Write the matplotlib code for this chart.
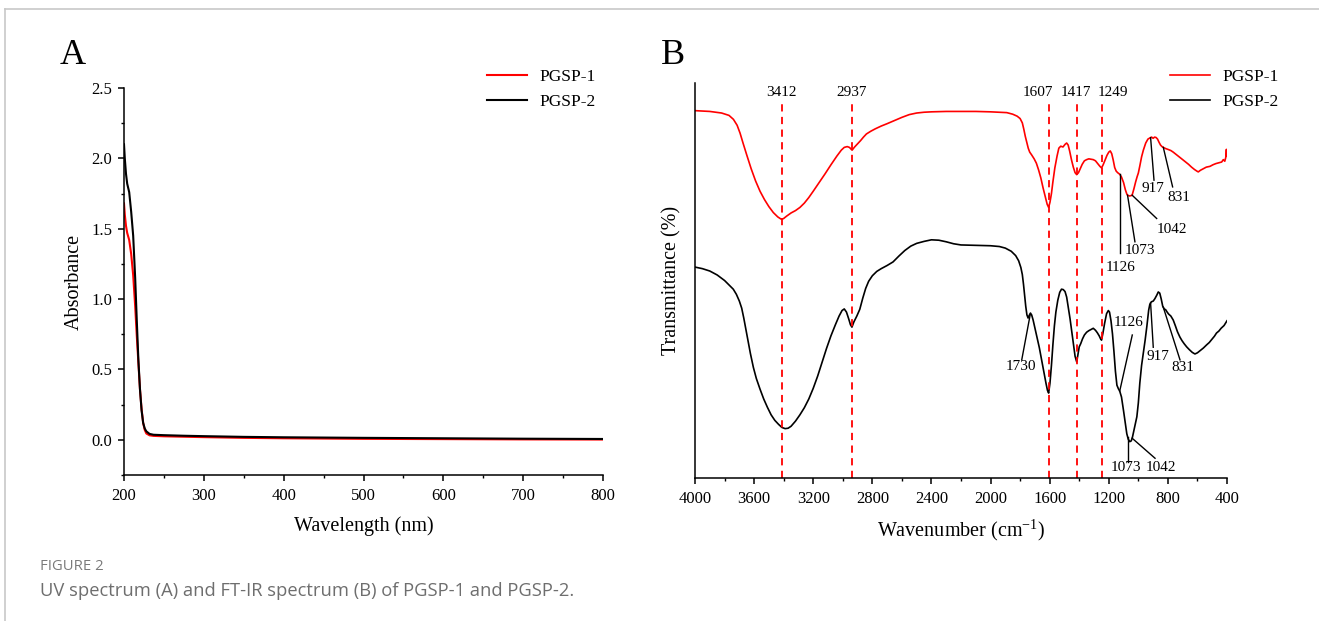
import numpy as np
import matplotlib
matplotlib.use("Agg")
import matplotlib.pyplot as plt
from matplotlib.lines import Line2D
from matplotlib.ticker import MultipleLocator, FormatStrFormatter

plt.rcParams['font.family'] = ['Liberation Serif', 'DejaVu Serif']
plt.rcParams['mathtext.fontset'] = 'custom'
plt.rcParams['mathtext.rm'] = 'Liberation Serif'

# ---------------- data ----------------
series_names = ["PGSP-1", "PGSP-2"]

# UV spectrum (A)
uv_wavelength = [200, 201, 202.5, 204, 206.5, 209, 211.5, 214, 216, 218, 220, 222, 224, 226, 228,
                 232, 237, 250, 275, 300, 350, 400, 450, 500, 600, 700, 800]
uv_pgsp1 = [1.68, 1.60, 1.52, 1.47, 1.42, 1.32, 1.17, 0.95, 0.74, 0.55, 0.36, 0.22, 0.12, 0.07, 0.045,
            0.032, 0.028, 0.025, 0.022, 0.019, 0.014, 0.011, 0.009, 0.007, 0.005, 0.003, 0.002]
uv_pgsp2 = [2.10, 2.00, 1.89, 1.82, 1.76, 1.62, 1.45, 1.15, 0.85, 0.57, 0.36, 0.21, 0.12, 0.08, 0.06,
            0.042, 0.036, 0.033, 0.029, 0.026, 0.021, 0.018, 0.016, 0.014, 0.011, 0.008, 0.006]

# FT-IR spectrum (B), transmittance in arbitrary units
ir1_wavenumber = [4000, 3900, 3820, 3770, 3740, 3715, 3695, 3675, 3650, 3620, 3590, 3560, 3530, 3500,
                  3470, 3440, 3420, 3412, 3400, 3380, 3350, 3320, 3290, 3260, 3230, 3200, 3160, 3120,
                  3080, 3040, 3010, 2990, 2970, 2955, 2937, 2920, 2900, 2880, 2860, 2840, 2810, 2780,
                  2740, 2700, 2650, 2600, 2550, 2500, 2450, 2400, 2300, 2200, 2100, 2000, 1940, 1890,
                  1850, 1820, 1800, 1785, 1775, 1765, 1755, 1745, 1735, 1722, 1705, 1690, 1675, 1660,
                  1645, 1630, 1617, 1607, 1598, 1588, 1578, 1565, 1550, 1538, 1525, 1510, 1495, 1485,
                  1475, 1465, 1452, 1440, 1428, 1417, 1405, 1393, 1380, 1365, 1350, 1335, 1320, 1305,
                  1290, 1275, 1260, 1249, 1238, 1225, 1212, 1200, 1190, 1180, 1170, 1160, 1150, 1140,
                  1126, 1114, 1100, 1088, 1078, 1073, 1060, 1048, 1042, 1030, 1018, 1008, 1000, 990,
                  978, 966, 950, 935, 921, 910, 900, 890, 880, 870, 860, 850, 840, 831, 815, 800, 780,
                  764, 740, 720, 700, 680, 660, 640, 620, 600, 594, 580, 560, 540, 515, 495, 475, 455,
                  436, 425, 415, 408, 404, 402, 400]
ir1_trans = [93.0, 92.8, 92.4, 91.8, 90.8, 89.3, 87.3, 84.8, 81.8, 78.3, 75.2, 72.6, 70.5, 68.7,
             67.2, 66.1, 65.6, 65.5, 65.7, 66.3, 67.1, 67.7, 68.5, 69.6, 71.0, 72.6, 74.8, 77.0,
             79.3, 81.5, 83.0, 83.7, 83.9, 83.7, 83.0, 83.8, 84.6, 85.4, 86.3, 87.1, 87.8, 88.4,
             89.1, 89.7, 90.5, 91.3, 92.0, 92.4, 92.6, 92.7, 92.8, 92.8, 92.8, 92.7, 92.6, 92.5,
             92.1, 91.6, 91.0, 89.9, 88.3, 86.5, 85.0, 83.5, 82.5, 81.8, 80.8, 79.7, 78.0, 76.0,
             73.5, 71.2, 69.3, 68.5, 69.8, 72.0, 75.0, 78.5, 81.5, 83.5, 84.0, 83.8, 84.5, 84.8,
             84.3, 82.8, 80.5, 78.7, 77.3, 76.8, 77.3, 78.3, 79.4, 80.3, 80.6, 80.8, 80.7, 80.6,
             80.3, 79.6, 78.9, 78.5, 79.3, 80.5, 81.7, 82.5, 82.8, 82.1, 80.5, 78.6, 77.7, 77.3,
             76.9, 76.2, 74.8, 73.0, 71.9, 71.6, 71.4, 71.5, 71.6, 73.2, 75.0, 76.3, 77.2, 79.0,
             81.3, 83.0, 84.8, 85.8, 86.1, 86.3, 86.0, 86.3, 86.2, 85.8, 85.0, 84.3, 83.9, 83.7, 83.4, 83.2, 82.9,
             82.5, 81.8, 81.2, 80.6, 80.0, 79.4, 78.7, 78.1, 77.6, 77.5, 77.9, 78.3, 78.7, 78.9, 79.3, 79.6, 79.8,
             80.0, 80.6, 80.2, 81.2, 83.2, 81.5, 82.0]

ir2_wavenumber = [4000, 3950, 3900, 3850, 3800, 3770, 3741, 3720, 3700, 3684, 3670, 3655, 3640, 3625,
                  3605, 3585, 3560, 3535, 3510, 3485, 3460, 3435, 3412, 3390, 3370, 3350, 3320, 3290,
                  3260, 3230, 3200, 3170, 3140, 3110, 3080, 3050, 3025, 3005, 2990, 2975, 2960, 2948,
                  2938, 2925, 2905, 2885, 2865, 2845, 2825, 2800, 2770, 2740, 2700, 2660, 2620, 2580,
                  2540, 2500, 2450, 2400, 2350, 2300, 2250, 2200, 2100, 2000, 1940, 1900, 1860, 1830,
                  1810, 1795, 1785, 1777, 1770, 1762, 1754, 1746, 1738, 1730, 1722, 1712, 1700, 1685,
                  1670, 1655, 1640, 1625, 1615, 1607, 1598, 1588, 1578, 1568, 1558, 1545, 1532, 1520,
                  1508, 1496, 1485, 1473, 1462, 1450, 1438, 1428, 1417, 1408, 1400, 1390, 1378, 1365,
                  1350, 1335, 1320, 1305, 1290, 1278, 1265, 1255, 1249, 1240, 1228, 1215, 1203, 1195,
                  1185, 1175, 1165, 1155, 1145, 1135, 1126, 1114, 1100, 1088, 1078, 1068, 1058, 1048,
                  1040, 1030, 1020, 1010, 1000, 990, 978, 965, 954, 942, 930, 922, 912, 899, 888, 875,
                  865, 855, 845, 835, 825, 815, 805, 795, 780, 764, 750, 735, 719, 705, 690, 673, 655,
                  635, 617, 600, 580, 560, 538, 520, 500, 485, 471, 455, 440, 420, 400]
ir2_trans = [53.4, 53.0, 52.4, 51.4, 50.0, 48.9, 47.8, 46.5, 44.8, 43.0, 40.5, 37.5, 34.5, 31.5,
             28.0, 25.2, 22.5, 20.0, 17.9, 16.0, 14.6, 13.6, 12.8, 12.5, 12.6, 13.1, 14.4, 16.0,
             17.8, 20.0, 22.7, 25.8, 29.3, 32.8, 36.0, 38.8, 41.0, 42.4, 42.8, 42.0, 40.3, 38.8,
             38.2, 39.5, 41.0, 42.7, 45.5, 48.0, 49.8, 51.2, 52.3, 53.0, 53.8, 54.7, 56.2, 57.6,
             58.7, 59.4, 59.9, 60.3, 60.2, 59.8, 59.3, 59.0, 58.9, 58.8, 58.6, 58.2, 57.4, 56.3,
             55.0, 53.3, 51.5, 49.0, 46.5, 43.5, 41.3, 40.5, 41.2, 41.7, 41.3, 40.0, 38.0, 35.5,
             33.0, 30.0, 27.0, 24.0, 22.2, 21.5, 24.0, 28.5, 33.8, 38.5, 42.0, 45.0, 47.0, 47.8,
             47.7, 47.2, 45.8, 43.0, 40.3, 37.0, 33.5, 30.8, 29.4, 31.5, 33.2, 34.0, 35.2, 36.2,
             36.9, 37.3, 37.6, 37.9, 37.4, 36.8, 36.0, 35.2, 34.9, 36.6, 39.2, 41.6, 42.4, 42.0,
             39.8, 36.5, 32.0, 27.0, 23.5, 22.6, 22.0, 20.5, 17.0, 13.8, 11.2, 9.8, 9.2, 9.4,
             10.3, 12.0, 13.6, 15.5, 19.0, 24.0, 28.5, 32.0, 34.9, 38.5, 42.5, 44.0, 44.6, 44.8, 45.4, 46.3,
             47.1, 46.8, 45.3, 43.5, 42.8, 42.6, 42.0, 41.5, 41.0, 40.0, 38.6, 37.0, 35.7, 34.8, 34.0, 33.2, 32.5,
             31.8, 31.4, 31.7, 32.3, 32.9, 33.7, 34.3, 35.2, 35.9, 36.7, 37.2, 37.9, 38.6, 39.8]

marked_peaks = [3412, 2937, 1607, 1417, 1249]
labels_pgsp1 = [1126, 1073, 1042, 917, 831]
labels_pgsp2 = [1730, 1126, 917, 831, 1073, 1042]

# ---------------- figure ----------------
W, H = 1319, 621
fig = plt.figure(figsize=(W / 100, H / 100), dpi=100)

def fx(px):
    return px / W

def fy(py):
    return 1 - py / H

red = '#ff0000'
black = '#000000'
tick_fs = 12
label_fs = 14.5
ann_fs = 11

# frame of the figure page
fig.add_artist(Line2D([fx(5), 1], [fy(9), fy(9)], color='#c8c8c8', lw=1.2))
fig.add_artist(Line2D([fx(5), fx(5)], [fy(9), 0], color='#c8c8c8', lw=1.2))

# ---- Panel A ----
axA = fig.add_axes([fx(124), fy(475), fx(603) - fx(124), fy(88) - fy(475)])
axA.plot(uv_wavelength, uv_pgsp1, color=red, lw=1.5, label=series_names[0])
axA.plot(uv_wavelength, uv_pgsp2, color=black, lw=1.5, label=series_names[1])
axA.set_xlim(200, 800)
axA.set_ylim(-0.25, 2.5)
axA.xaxis.set_major_locator(MultipleLocator(100))
axA.xaxis.set_minor_locator(MultipleLocator(50))
axA.yaxis.set_major_locator(MultipleLocator(0.5))
axA.yaxis.set_minor_locator(MultipleLocator(0.25))
axA.yaxis.set_major_formatter(FormatStrFormatter('%.1f'))
for s in ['top', 'right']:
    axA.spines[s].set_visible(False)
for s in ['left', 'bottom']:
    axA.spines[s].set_linewidth(1.1)
axA.tick_params(which='major', direction='out', length=4.5, width=1.1, labelsize=tick_fs, pad=4)
axA.tick_params(axis='x', which='major', pad=5)
axA.tick_params(which='minor', direction='out', length=2.5, width=1.0)
axA.set_xlabel('Wavelength (nm)', fontsize=label_fs, labelpad=9)
axA.set_ylabel('Absorbance', fontsize=label_fs, labelpad=5)
axA.legend(loc='upper left', bbox_to_anchor=(fx(487), fy(69)), bbox_transform=fig.transFigure,
           frameon=False, borderpad=0, borderaxespad=0, handlelength=2.3, handletextpad=0.75,
           labelspacing=0.5, fontsize=12.5)
fig.text(fx(73), fy(56), 'A', fontsize=26, ha='center', va='center')

# ---- Panel B ----
axB = fig.add_axes([fx(695), fy(478), fx(1227) - fx(695), fy(83) - fy(478)])
axB.plot(ir1_wavenumber, ir1_trans, color=red, lw=1.2, label=series_names[0])
axB.plot(ir2_wavenumber, ir2_trans, color=black, lw=1.2, label=series_names[1])
axB.set_xlim(4000, 400)
axB.set_ylim(0, 100)
axB.xaxis.set_major_locator(MultipleLocator(400))
axB.xaxis.set_minor_locator(MultipleLocator(200))
axB.set_yticks([])
for s in ['top', 'right']:
    axB.spines[s].set_visible(False)
for s in ['left', 'bottom']:
    axB.spines[s].set_linewidth(1.1)
axB.tick_params(which='major', direction='out', length=4.5, width=1.1, labelsize=tick_fs, pad=5)
axB.tick_params(which='minor', direction='out', length=2.5, width=1.0)
axB.set_xlabel('Wavenumber (cm$^{-1}$)', fontsize=label_fs, labelpad=7)
axB.set_ylabel('Transmittance (%)', fontsize=label_fs, labelpad=10)
axB.legend(loc='upper left', bbox_to_anchor=(fx(1170), fy(69)), bbox_transform=fig.transFigure,
           frameon=False, borderpad=0, borderaxespad=0, handlelength=2.3, handletextpad=0.75,
           labelspacing=0.5, fontsize=12.5)
fig.text(fx(673), fy(56), 'B', fontsize=26, ha='center', va='center')

# dashed marker lines with labels (label x shifted where the original does)
peak_label_x = {3412: 3412, 2937: 2937, 1607: 1679, 1417: 1424, 1249: 1169}
for wn in marked_peaks:
    axB.plot([wn, wn], [0, 95.3], color=red, lw=1.3, ls=(0, (4, 3)))
    axB.text(peak_label_x[wn], 97.6, str(wn), fontsize=ann_fs, ha='center', va='center')

def curve1(w):
    return np.interp(w, ir1_wavenumber[::-1], ir1_trans[::-1])

def curve2(w):
    return np.interp(w, ir2_wavenumber[::-1], ir2_trans[::-1])

# leader lines: label -> (line end (wn, T), text centre (wn, T))
ann1 = {
    1126: ((1126, 57.0), (1123, 53.3)),
    1073: ((1023, 59.8), (990, 57.6)),
    1042: ((876, 65.7), (774, 63.0)),
    917: ((894, 75.4), (903, 73.2)),
    831: ((768, 73.7), (725, 71.0)),
}
ann2 = {
    1730: ((1789, 29.9), (1794, 28.2)),
    1126: ((1041, 36.2), (1063, 39.3)),
    917: ((899, 33.1), (870, 30.8)),
    831: ((718, 29.9), (701, 27.9)),
    1073: ((1073, 4.1), (1087, 2.6)),
    1042: ((887, 5.0), (845, 2.6)),
}
for lab in labels_pgsp1:
    (lx, ly), (tx, ty) = ann1[lab]
    axB.plot([lab, lx], [curve1(lab), ly], color=black, lw=1.0)
    axB.text(tx, ty, str(lab), fontsize=ann_fs, ha='center', va='center')
for lab in labels_pgsp2:
    (lx, ly), (tx, ty) = ann2[lab]
    axB.plot([lab, lx], [curve2(lab), ly], color=black, lw=1.0)
    axB.text(tx, ty, str(lab), fontsize=ann_fs, ha='center', va='center')

# caption
fig.text(fx(40), fy(566), 'FIGURE 2', fontsize=10.7, color='#7a7a7a', ha='left', va='center',
         family=['Open Sans', 'DejaVu Sans'])
fig.text(fx(40), fy(591), 'UV spectrum (A) and FT-IR spectrum (B) of PGSP-1 and PGSP-2.',
         fontsize=13.2, color='#6e6e6e', ha='left', va='center', family=['Open Sans', 'DejaVu Sans'])

fig.savefig('out.png', dpi=100)
